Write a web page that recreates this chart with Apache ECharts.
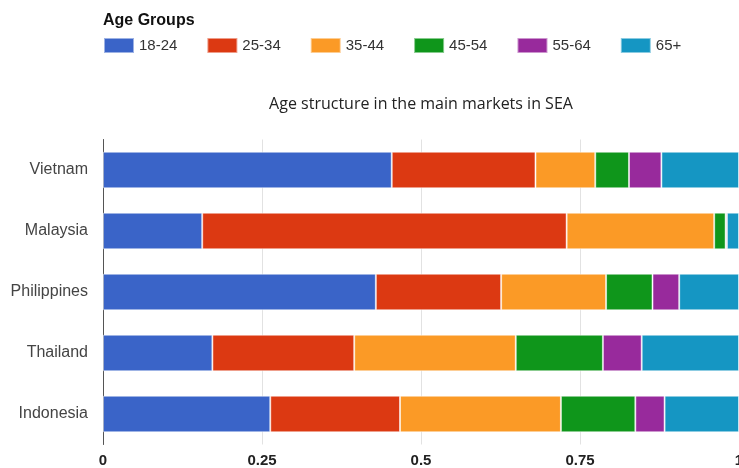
<!DOCTYPE html>
<html>
<head>
<meta charset="utf-8">
<script src="https://cdn.jsdelivr.net/npm/echarts@6/dist/echarts.min.js"></script>
<style>
  html, body { margin: 0; padding: 0; background: #fff; }
  #chart { width: 739px; height: 468px; }
</style>
</head>
<body>
<div id="chart"></div>
<script>
// countries, top to bottom
const countries = ['Vietnam', 'Malaysia', 'Philippines', 'Thailand', 'Indonesia']
const ageGroups = ['18-24', '25-34', '35-44', '45-54', '55-64', '65+']
const groupColors = ['#3a64c8', '#dc3912', '#fb9a26', '#0f961b', '#982a9c', '#1596c3']

// share of each age group per country (order = countries)
const age18to24 = [0.454, 0.156, 0.429, 0.172, 0.263]
const age25to34 = [0.226, 0.573, 0.197, 0.223, 0.204]
const age35to44 = [0.094, 0.232, 0.165, 0.254, 0.253]
const age45to54 = [0.053, 0.018, 0.073, 0.137, 0.117]
const age55to64 = [0.051, 0.002, 0.042, 0.061, 0.046]
const age65plus = [0.122, 0.019, 0.094, 0.153, 0.117]

const groupValues = [age18to24, age25to34, age35to44, age45to54, age55to64, age65plus]

const chart = echarts.init(document.getElementById('chart'))
chart.setOption({
  animation: false,
  title: [
    {
      text: 'Age Groups',
      left: 98,
      top: 8,
      textStyle: { fontFamily: 'Liberation Sans', fontSize: 16, fontWeight: 'bold', color: '#111' }
    },
    {
      text: 'Age structure in the main markets in SEA',
      left: 416,
      top: 91,
      textAlign: 'center',
      textStyle: { fontFamily: 'Open Sans', fontSize: 16, fontWeight: 'normal', color: '#222' }
    }
  ],
  legend: {
    data: ageGroups,
    left: 98,
    top: 32,
    icon: 'rect',
    itemWidth: 30,
    itemHeight: 15,
    itemGap: 29,
    textStyle: { fontFamily: 'Liberation Sans', fontSize: 15, color: '#333' }
  },
  grid: {
    left: 103,
    right: 0,
    top: 139.5,
    bottom: 23.5,
    outerBoundsMode: 'none'
  },
  xAxis: {
    type: 'value',
    min: 0,
    max: 1,
    interval: 0.25,
    axisLine: { show: false },
    axisTick: { show: false },
    axisLabel: {
      margin: 9,
      fontFamily: 'Liberation Sans',
      fontSize: 15,
      fontWeight: 'bold',
      color: '#222'
    },
    splitLine: { lineStyle: { color: '#e2e2e2' } }
  },
  yAxis: {
    type: 'category',
    inverse: true,
    data: countries,
    axisLine: { lineStyle: { color: '#555', width: 1 } },
    axisTick: { show: false },
    axisLabel: {
      margin: 15,
      fontFamily: 'Liberation Sans',
      fontSize: 16,
      color: '#444'
    }
  },
  series: ageGroups.map((name, i) => ({
    name: name,
    type: 'bar',
    stack: 'total',
    data: groupValues[i],
    barCategoryGap: '40%',
    itemStyle: {
      color: groupColors[i],
      borderColor: 'rgba(255,255,255,0.5)',
      borderWidth: 1
    }
  }))
})
</script>
</body>
</html>
